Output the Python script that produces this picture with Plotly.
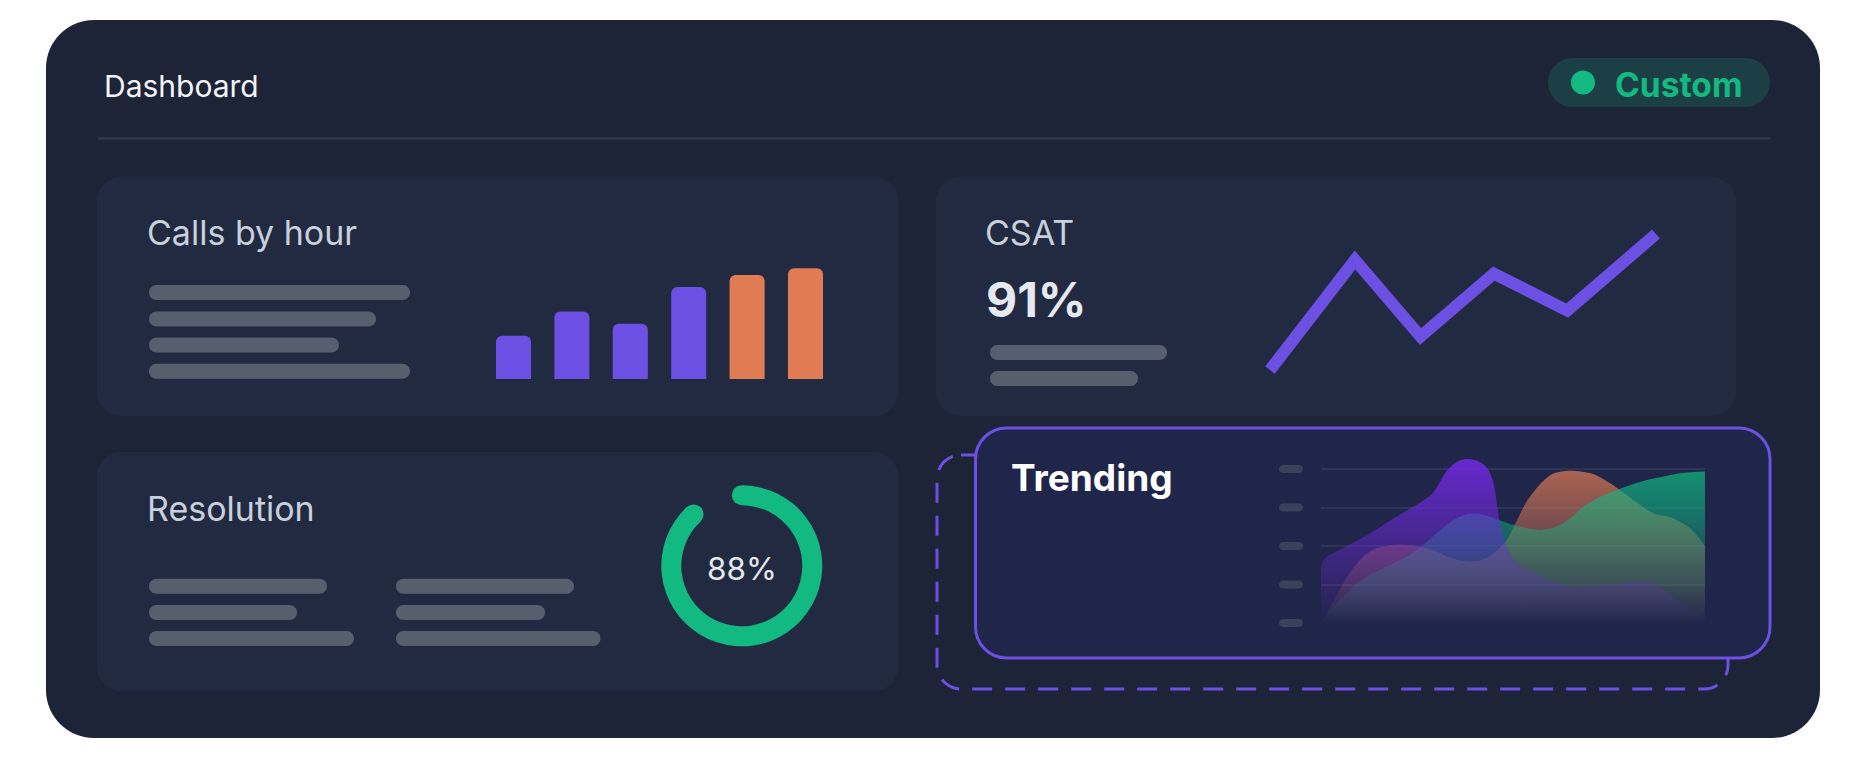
import math
import plotly.graph_objects as go

W, H = 1864, 758

# ---------------- data ----------------
hours = ["9", "10", "11", "12", "13", "14"]
calls = [39, 61, 50, 83, 94, 100]
peak_hours = ["13", "14"]

csat_week = [0, 2.2, 3.9, 5.8, 7.7, 10]
csat_score = [84, 92.9, 86.7, 91.8, 88.8, 95.0]
csat_label = "91%"

resolution_pct = 88

trend_purple_x = [0, 1, 4, 12, 19, 25, 29, 33, 36, 38, 40.5, 43, 44.7, 46.6, 48.4, 50, 52, 57, 63, 67, 75, 83.5, 87.5, 92.5, 100]
trend_purple_y = [36, 42, 46.5, 57, 68, 77, 84, 99.5, 105.5, 106.5, 105.5, 101.5, 93, 65, 49.5, 42, 37.5, 31, 24.7, 23.6, 25, 26.8, 24.7, 15, 3]
trend_orange_x = [0, 3, 5.8, 8.5, 11, 14, 18.8, 23, 26.6, 30, 34, 38.8, 42.5, 45, 48.4, 50, 53.6, 57, 60.5, 64.8, 70.9, 75.3, 81.3, 86.5, 91.7, 96.1, 98.5, 100]
trend_orange_y = [0, 13, 25.7, 36, 43, 48, 50.6, 50.5, 49.2, 46.5, 42, 39.8, 41.5, 45.3, 54, 61.5, 79, 90, 97, 98.9, 96.8, 90.7, 79.9, 71.2, 68, 61.5, 55, 49.5]
trend_green_x = [0, 2.5, 5.8, 10, 14, 18.8, 23, 26.6, 30.1, 34.5, 38, 41, 44, 47.5, 52, 57, 60, 62.2, 65.5, 68.3, 72, 77, 81, 85.7, 90, 93.5, 97, 100]
trend_green_y = [0, 8, 17, 27, 33, 38.7, 44, 50.6, 58.2, 66.9, 70.5, 70.8, 69, 65.8, 62.5, 60.4, 61.5, 63.6, 69, 75.5, 81, 86.4, 90, 93.3, 95.5, 97.2, 98.1, 98.3]
trend_ticks = [0, 25, 50, 75, 100]

# ---------------- styles ----------------
FONT = "Inter"
PANEL = "#1D2438"
CARD = "#212A41"
CARD_HI = "#20264A"
SKEL = "#575F6E"
PURPLE = "#6B50E3"
ORANGE = "#E07B54"
GREEN = "#12B981"
TITLE = "#C9D0DD"


def fx(x):
    return x / W


def fy(y):
    return 1 - y / H


def rrect_path(x0, y0, x1, y1, r):
    k = 0.5523 * r
    P = lambda x, y: f"{fx(x):.6f},{fy(y):.6f}"
    return (
        f"M {P(x0 + r, y0)} L {P(x1 - r, y0)} "
        f"C {P(x1 - r + k, y0)} {P(x1, y0 + r - k)} {P(x1, y0 + r)} "
        f"L {P(x1, y1 - r)} "
        f"C {P(x1, y1 - r + k)} {P(x1 - r + k, y1)} {P(x1 - r, y1)} "
        f"L {P(x0 + r, y1)} "
        f"C {P(x0 + r - k, y1)} {P(x0, y1 - r + k)} {P(x0, y1 - r)} "
        f"L {P(x0, y0 + r)} "
        f"C {P(x0, y0 + r - k)} {P(x0 + r - k, y0)} {P(x0 + r, y0)} Z"
    )


shapes = []


def rrect(x0, y0, x1, y1, r, fill, line=None, lw=0, dash=None):
    shapes.append(dict(
        type="path", xref="paper", yref="paper", layer="below",
        path=rrect_path(x0, y0, x1, y1, r),
        fillcolor=fill,
        line=dict(color=line or "rgba(0,0,0,0)", width=lw, dash=dash or "solid"),
    ))


def pill(x0, x1, yc, h, color):
    rrect(x0, yc - h / 2, x1, yc + h / 2, h / 2, color)


def lin_range(d0, d1, a_px, a_val, b_px, b_val):
    s = (b_val - a_val) / (b_px - a_px)
    return [a_val + (d0 - a_px) * s, a_val + (d1 - a_px) * s]


# ---------------- background shapes ----------------
rrect(46, 20, 1820, 738, 48, PANEL)
shapes.append(dict(type="line", xref="paper", yref="paper", layer="below",
                   x0=fx(98), x1=fx(1770), y0=fy(138.5), y1=fy(138.5),
                   line=dict(color="#2B3650", width=2.5)))
# badge
rrect(1548, 58, 1770, 107, 24.5, "#1B3F44")
shapes.append(dict(type="circle", xref="paper", yref="paper", layer="below",
                   x0=fx(1571), x1=fx(1595), y0=fy(70.5), y1=fy(94.5),
                   fillcolor=GREEN, line=dict(width=0)))
# cards
rrect(97, 177, 898, 416, 24, CARD)
rrect(936, 177, 1736, 416, 24, CARD)
rrect(97, 452, 898, 691, 24, CARD)
# skeleton lines
for x1, yc in [(410, 292.5), (376, 319), (339, 345), (410, 371.3)]:
    pill(149, x1, yc, 15, SKEL)
for x1, yc in [(1167, 352.5), (1138, 378.5)]:
    pill(990, x1, yc, 15, SKEL)
for x0, ends in [(149, [327, 297, 354]), (396, [574, 545, 600.5])]:
    for x1, yc in zip(ends, [586.3, 612.5, 638.5]):
        pill(x0, x1, yc, 15, SKEL)
# dashed ghost slot + trending card
rrect(937, 455, 1728, 689, 24, "rgba(0,0,0,0)", PURPLE, 3, "20px,13px")
rrect(975.5, 428, 1770, 658, 31, CARD_HI, PURPLE, 3)

# area chart axis mapping (value 0 at y=623, 1.54 px per unit)
A_Y0, A_K = 623, 1.54
for v in trend_ticks:
    pill(1279, 1303, A_Y0 - v * A_K, 8, "#39425C")

fig = go.Figure()

# ---------------- bars ----------------
bar_colors = [ORANGE if h in peak_hours else PURPLE for h in hours]
fig.add_trace(go.Bar(x=hours, y=calls, marker=dict(color=bar_colors, cornerradius=6, line=dict(width=0)),
                     xaxis="x", yaxis="y", showlegend=False, hoverinfo="skip"))

# ---------------- csat line ----------------
fig.add_trace(go.Scatter(x=csat_week, y=csat_score, mode="lines",
                         line=dict(color=PURPLE, width=12),
                         xaxis="x2", yaxis="y2", showlegend=False, hoverinfo="skip"))

# ---------------- trending areas ----------------
for xs, ys, rgb, a in [
    (trend_orange_x, trend_orange_y, "224,123,84", 0.72),
    (trend_green_x, trend_green_y, "16,185,129", 0.72),
    (trend_purple_x, trend_purple_y, "109,40,217", 0.92),
]:
    fig.add_trace(go.Scatter(
        x=xs, y=ys, mode="lines", fill="tozeroy",
        line=dict(width=0, shape="spline", smoothing=0.8, color=f"rgba({rgb},0)"),
        fillgradient=dict(type="vertical",
                          colorscale=[[0, f"rgba({rgb},0.0)"], [1, f"rgba({rgb},{a})"]]),
        xaxis="x3", yaxis="y3", showlegend=False, hoverinfo="skip"))

# ---------------- donut ----------------
CX, CY, RO, RI = 741.8, 565.8, 80.5, 60.5
fig.add_trace(go.Pie(values=[resolution_pct, 100 - resolution_pct], hole=RI / RO,
                     sort=False, direction="clockwise", rotation=0,
                     marker=dict(colors=[GREEN, "rgba(0,0,0,0)"], line=dict(width=0)),
                     textinfo="none", hoverinfo="skip", showlegend=False,
                     domain=dict(x=[fx(CX - RO), fx(CX + RO)], y=[fy(CY + RO), fy(CY - RO)])))
rm = (RO + RI) / 2
ang = [0, resolution_pct / 100 * 2 * math.pi]
fig.add_trace(go.Scatter(x=[rm * math.sin(t) for t in ang], y=[rm * math.cos(t) for t in ang],
                         mode="markers", marker=dict(color=GREEN, size=RO - RI, line=dict(width=0)),
                         xaxis="x4", yaxis="y4", showlegend=False, hoverinfo="skip"))

hidden = dict(visible=False, showgrid=False, zeroline=False, fixedrange=True)

# bars axis: bottom 379 px = 0, 1.107 px / unit, 58.4 px per category
bar_dom_x = [fx(513.5 - 29.2), fx(805.5 + 29.2)]
bar_yr = lin_range(379, 240, 379, 0, 379 - 1.107 * 100, 100)
csat_xr = lin_range(1240, 1695, 1270, 0, 1656, 10)
csat_yr = lin_range(400, 205, 370, 84, 234, 95)
area_yr = lin_range(A_Y0, 450, A_Y0, 0, A_Y0 - A_K * 100, 100)

fig.update_layout(
    width=W, height=H, margin=dict(l=0, r=0, t=0, b=0),
    paper_bgcolor="white", plot_bgcolor="rgba(0,0,0,0)",
    bargap=0.4,
    shapes=shapes,
    xaxis=dict(domain=bar_dom_x, range=[-0.5, 5.5], **hidden),
    yaxis=dict(domain=[fy(379), fy(240)], range=bar_yr, **hidden),
    xaxis2=dict(domain=[fx(1240), fx(1695)], range=csat_xr, **hidden),
    yaxis2=dict(domain=[fy(400), fy(205)], range=csat_yr, **hidden),
    xaxis3=dict(domain=[fx(1321), fx(1705)], range=[0, 100], **hidden),
    yaxis3=dict(domain=[fy(A_Y0), fy(450)], range=area_yr, visible=True, showgrid=True,
                gridcolor="#2C3458", gridwidth=1.5, tickvals=trend_ticks[1:],
                showticklabels=False, zeroline=False, showline=False, ticks="", fixedrange=True),
    xaxis4=dict(domain=[fx(CX - RO), fx(CX + RO)], range=[-RO, RO], **hidden),
    yaxis4=dict(domain=[fy(CY + RO), fy(CY - RO)], range=[-RO, RO], **hidden),
)

ann = []


def text(x, y, s, size, color, weight=400, anchor="left"):
    ann.append(dict(x=fx(x), y=fy(y), xref="paper", yref="paper", text=s, showarrow=False,
                    xanchor=anchor, yanchor="middle",
                    font=dict(family=FONT, size=size, color=color, weight=weight)))


text(102, 86, "Dashboard", 30, "#F4F5F8")
text(1613, 85, "Custom", 33.5, GREEN, 700)
text(145, 232.5, "Calls by hour", 34, TITLE)
text(983, 232.5, "CSAT", 34, TITLE)
text(984, 299, csat_label, 48, "#E6E9F0", 700)
text(145, 508, "Resolution", 34, TITLE)
text(1009, 477, "Trending", 37, "#FFFFFF", 700)
text(CX, 568, f"{resolution_pct}%", 31.5, "#E6E9F0", 400, "center")
fig.update_layout(annotations=ann)

fig.write_html("out.html")
